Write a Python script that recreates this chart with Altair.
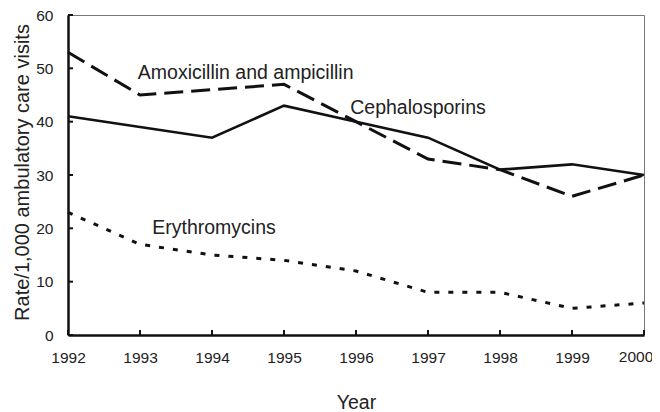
import altair as alt
import pandas as pd

# ---- data ----
years = [1992, 1993, 1994, 1995, 1996, 1997, 1998, 1999, 2000]
amoxicillin = [53, 45, 46, 47, 40, 33, 31, 26, 30]
cephalosporins = [41, 39, 37, 43, 40, 37, 31, 32, 30]
erythromycins = [23, 17, 15, 14, 12, 8, 8, 5, 6]
y_tick_values = [0, 10, 20, 30, 40, 50, 60]

label_text = ["Amoxicillin and ampicillin", "Cephalosporins", "Erythromycins"]
label_year = [1992.97, 1995.92, 1993.17]
label_value = [49.2, 42.6, 20.0]

# ---- tables ----
df_amox = pd.DataFrame({"year": years, "value": amoxicillin})
df_ceph = pd.DataFrame({"year": years, "value": cephalosporins})
df_eryth = pd.DataFrame({"year": years, "value": erythromycins})
df_labels = pd.DataFrame({"year": label_year, "value": label_value, "text": label_text})
df_xticks = pd.DataFrame({"year": years})
df_yticks = pd.DataFrame({"value": y_tick_values})
df_last = pd.DataFrame({"year": [years[-1]], "text": [str(years[-1])]})

W, H = 576, 320
FONT = "Liberation Sans"

xscale = alt.Scale(domain=[1992, 2000], nice=False, zero=False)
yscale = alt.Scale(domain=[0, 60], nice=False)

xaxis = alt.Axis(values=years, format="d", title="Year", ticks=False, grid=False,
                 labelFlush=False,
                 labelExpr="datum.value == 2000 ? '' : datum.label",
                 labelFontSize=15.5, labelPadding=15, labelColor="#222",
                 domainColor="#111", domainWidth=2.5,
                 titleFontSize=19.5, titleFontWeight="normal", titleColor="#222",
                 titleX=W / 2, titleY=67, titleBaseline="middle", titleAlign="center")
yaxis = alt.Axis(values=y_tick_values, title="Rate/1,000 ambulatory care visits",
                 ticks=False, grid=False, labelFlush=False,
                 labelFontSize=15.5, labelPadding=15, labelColor="#222",
                 domainColor="#111", domainWidth=2.5,
                 titleFontSize=20, titleFontWeight="normal", titleColor="#222",
                 titleAngle=-90, titleX=-46, titleY=157,
                 titleBaseline="middle", titleAlign="center")

X = alt.X("year:Q", scale=xscale, axis=xaxis)
Y = alt.Y("value:Q", scale=yscale, axis=yaxis)

amox_line = alt.Chart(df_amox).mark_line(
    color="#111", strokeWidth=3, strokeDash=[19, 8], strokeCap="butt"
).encode(x=X, y=Y)

ceph_line = alt.Chart(df_ceph).mark_line(
    color="#111", strokeWidth=2.6
).encode(x=X, y=Y)

eryth_line = alt.Chart(df_eryth).mark_line(
    color="#111", strokeWidth=3, strokeDash=[5, 9], strokeCap="butt"
).encode(x=X, y=Y)

labels = alt.Chart(df_labels).mark_text(
    align="left", baseline="middle", fontSize=19.5, font=FONT, color="#222"
).encode(x=X, y=Y, text="text:N")

last_label = alt.Chart(df_last).mark_text(
    align="center", baseline="top", fontSize=15.5, font=FONT, color="#222", dx=-8
).encode(x=X, y=alt.value(H + 15), text="text:N")

xticks = alt.Chart(df_xticks).mark_rule(color="#111", strokeWidth=2).encode(
    x=X, y=alt.value(H), y2=alt.value(H - 5)
)
yticks = alt.Chart(df_yticks).mark_rule(color="#111", strokeWidth=2).encode(
    y=Y, x=alt.value(0), x2=alt.value(5)
)

chart = alt.layer(amox_line, ceph_line, eryth_line, labels, last_label, xticks, yticks).properties(
    width=W, height=H,
    autosize=alt.AutoSizeParams(type="none"),
    padding={"left": 60, "top": 7, "right": 8, "bottom": 89},
    background="white",
).configure_view(
    stroke="#777", strokeWidth=1
).configure_axis(
    labelFont=FONT, titleFont=FONT
)

chart.save("out.html", embed_options={"renderer": "svg", "actions": False})
